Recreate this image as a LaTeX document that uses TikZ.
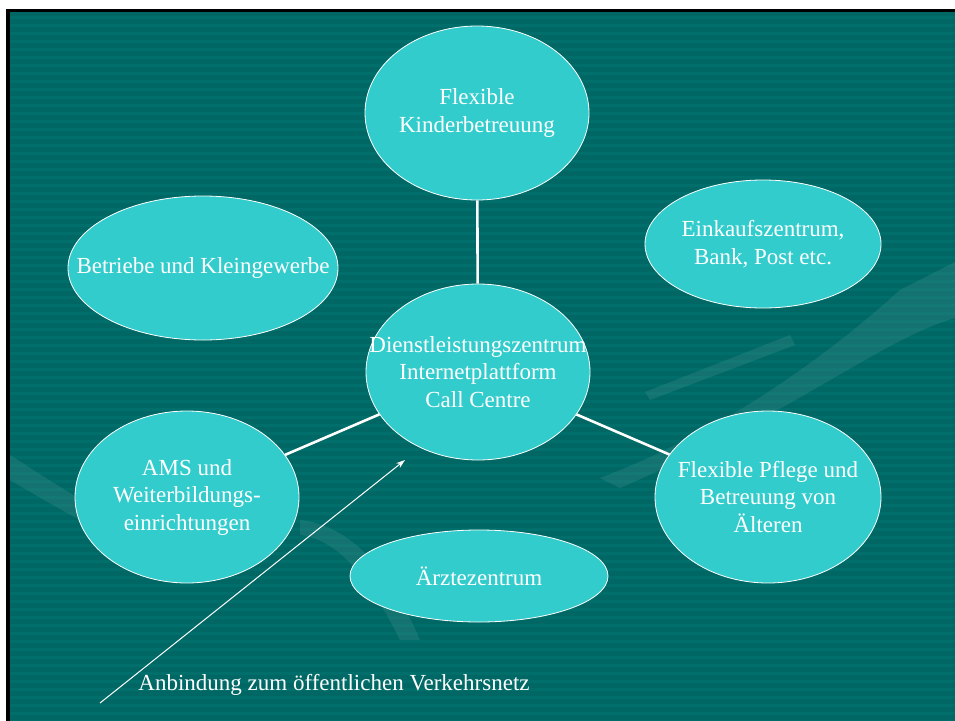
\documentclass[tikz,border=0pt]{standalone}
\usepackage{fontspec}
\setmainfont{Liberation Serif}
\usetikzlibrary{shapes.geometric,arrows.meta}
\definecolor{slidebg}{RGB}{0,103,100}
\definecolor{stripe}{RGB}{0,110,106}
\definecolor{bubblefill}{RGB}{51,204,204}
\begin{document}
\begin{tikzpicture}[x=1pt,y=-1pt,
    bubble/.style={ellipse,draw=white,line width=0.8pt,fill=bubblefill,inner sep=0pt},
    txt/.style={text=white,align=center,font=\fontsize{23}{27.5}\selectfont},
    link/.style={draw=white,line width=2.6pt},
    faint/.style={fill=white,opacity=0.08}]
  \useasboundingbox (0,0) rectangle (955,720);
  \fill[white] (-5,-5) rectangle (965,730);
  \fill[slidebg] (8,10) rectangle (965,730);
  \foreach \y in {16,24,...,724} {
    \fill[stripe] (10,\y) rectangle (965,\y+3);
  }
  \draw[black,line width=3.5pt] (8,730) -- (8,10.5) -- (965,10.5);
  % faint hands in the background
  \fill[faint] (600,478) .. controls (700,440) and (800,380) .. (900,290) -- (955,262)
    -- (955,318) .. controls (880,340) and (800,410) .. (620,488) -- cycle;
  \fill[faint] (645,392) -- (790,335) -- (795,345) -- (650,400) -- cycle;
  \fill[faint] (10,455) .. controls (80,500) and (150,545) .. (240,575)
    .. controls (150,565) and (70,515) .. (10,480) -- cycle;
  \fill[faint] (300,520) .. controls (350,525) and (390,570) .. (420,640) -- (400,640)
    .. controls (370,580) and (340,540) .. (300,535) -- cycle;
  % ellipses
  \node[bubble,minimum width=224,minimum height=174,label={[txt]center:Flexible\\Kinderbetreuung}] (kinder) at (477,113) {};
  \node[bubble,minimum width=270,minimum height=144,label={[txt]center:Betriebe und Kleingewerbe}] (betriebe) at (203,268) {};
  \node[bubble,minimum width=236,minimum height=128,label={[txt]center:Einkaufszentrum,\\Bank, Post etc.}] (einkauf) at (763,244) {};
  \node[bubble,minimum width=224,minimum height=176,label={[txt]center:Dienstleistungszentrum\\Internetplattform\\Call Centre}] (zentrum) at (478,372) {};
  \node[bubble,minimum width=224,minimum height=172,label={[txt]center:AMS und\\Weiterbildungs-\\einrichtungen}] (ams) at (187,497) {};
  \node[bubble,minimum width=226,minimum height=172,label={[txt]center:Flexible Pflege und\\Betreuung von\\Älteren}] (pflege) at (768,497) {};
  \node[bubble,minimum width=258,minimum height=92,label={[txt]center:Ärztezentrum}] (aerzte) at (479,576) {};
  % connectors
  \draw[link] (kinder) -- (zentrum);
  \draw[link] (zentrum) -- (ams);
  \draw[link] (zentrum) -- (pflege);
  % transport link
  \coordinate (start) at (100,703);
  \coordinate (ziel) at (405,460);
  \draw[white,line width=1pt,-{Stealth[length=9pt,width=6pt]}] (start) -- (ziel);
  \node[txt] (verkehr) at (334,685) {Anbindung zum öffentlichen Verkehrsnetz};
\end{tikzpicture}
\end{document}
